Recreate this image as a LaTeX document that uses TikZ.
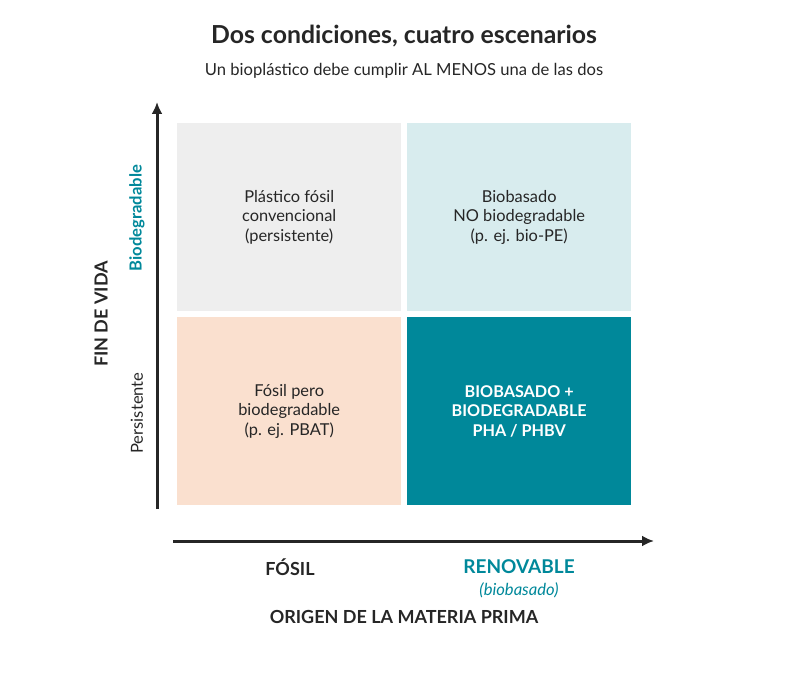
\documentclass[tikz,border=0pt]{standalone}
\usepackage{fontspec}
\setmainfont{Lato}
\usepackage{tikz}
\usetikzlibrary{positioning,arrows.meta}
\definecolor{tealmain}{HTML}{00889A}
\definecolor{greybox}{HTML}{EEEEEE}
\definecolor{tealbox}{HTML}{D8ECEE}
\definecolor{peachbox}{HTML}{FAE0CF}
\definecolor{inkdark}{HTML}{262626}
\tikzset{
  quadrant/.style={rectangle, minimum width=224pt, minimum height=188pt, inner sep=0pt, anchor=north west},
  celltext/.style={align=center, font=\fontsize{16.4}{19.5}\selectfont, text=inkdark},
  axisarrow/.style={-{Latex[length=12pt,width=11pt]}, line width=3pt, draw=inkdark},
  axislabel/.style={font=\bfseries\fontsize{18}{22}\selectfont, text=inkdark},
  sidelabel/.style={font=\fontsize{16.6}{19}\selectfont, rotate=90},
}

\begin{document}
\begin{tikzpicture}[x=1pt, y=-1pt]
  \useasboundingbox (0,0) rectangle (795,676);

  % title
  \node[font=\bfseries\fontsize{24.8}{28}\selectfont, text=inkdark] (title) at (404,36) {Dos condiciones, cuatro escenarios};
  \node[font=\fontsize{16.6}{19}\selectfont, text=inkdark] (subtitle) at (404,71) {Un bioplástico debe cumplir AL MENOS una de las dos};

  % four quadrants
  \node[quadrant, fill=greybox] (q1) at (177,123) {};
  \node[quadrant, fill=tealbox] (q2) at (407,123) {};
  \node[quadrant, fill=peachbox] (q3) at (177,317) {};
  \node[quadrant, fill=tealmain] (q4) at (407,317) {};

  \node[celltext] at (q1.center) {Plástico fósil\\convencional\\(persistente)};
  \node[celltext] at (q2.center) {Biobasado\\NO biodegradable\\(p. ej. bio-PE)};
  \node[celltext] at (q3.center) {Fósil pero\\biodegradable\\(p. ej. PBAT)};
  \node[celltext, text=white, font=\bfseries\fontsize{16.2}{19.5}\selectfont] at (q4.center) {BIOBASADO +\\BIODEGRADABLE\\PHA / PHBV};

  % axes
  \coordinate (yfoot) at (157,509);
  \coordinate (yhead) at (157,102);
  \coordinate (xfoot) at (173,541);
  \coordinate (xhead) at (654,541);
  \draw[axisarrow] (yfoot) -- (yhead);
  \draw[axisarrow] (xfoot) -- (xhead);

  % vertical axis labels
  \node[sidelabel, text=tealmain, font=\bfseries\fontsize{16.6}{19}\selectfont] (biodeg) at (137,218) {Biodegradable};
  \node[sidelabel, text=inkdark] (persist) at (137,413) {Persistente};
  \node[axislabel, rotate=90] (finvida) at (101,314) {FIN DE VIDA};

  % horizontal axis labels
  \node[axislabel] (fosil) at (290,567) {FÓSIL};
  \node[axislabel, text=tealmain, font=\bfseries\fontsize{19}{22}\selectfont] (renov) at (519,567) {RENOVABLE};
  \node[font=\itshape\fontsize{16.6}{19}\selectfont, text=tealmain] (biobas) at (519,590) {(biobasado)};
  \node[font=\bfseries\fontsize{18}{22}\selectfont, text=inkdark] (origen) at (404,617) {ORIGEN DE LA MATERIA PRIMA};
\end{tikzpicture}
\end{document}
